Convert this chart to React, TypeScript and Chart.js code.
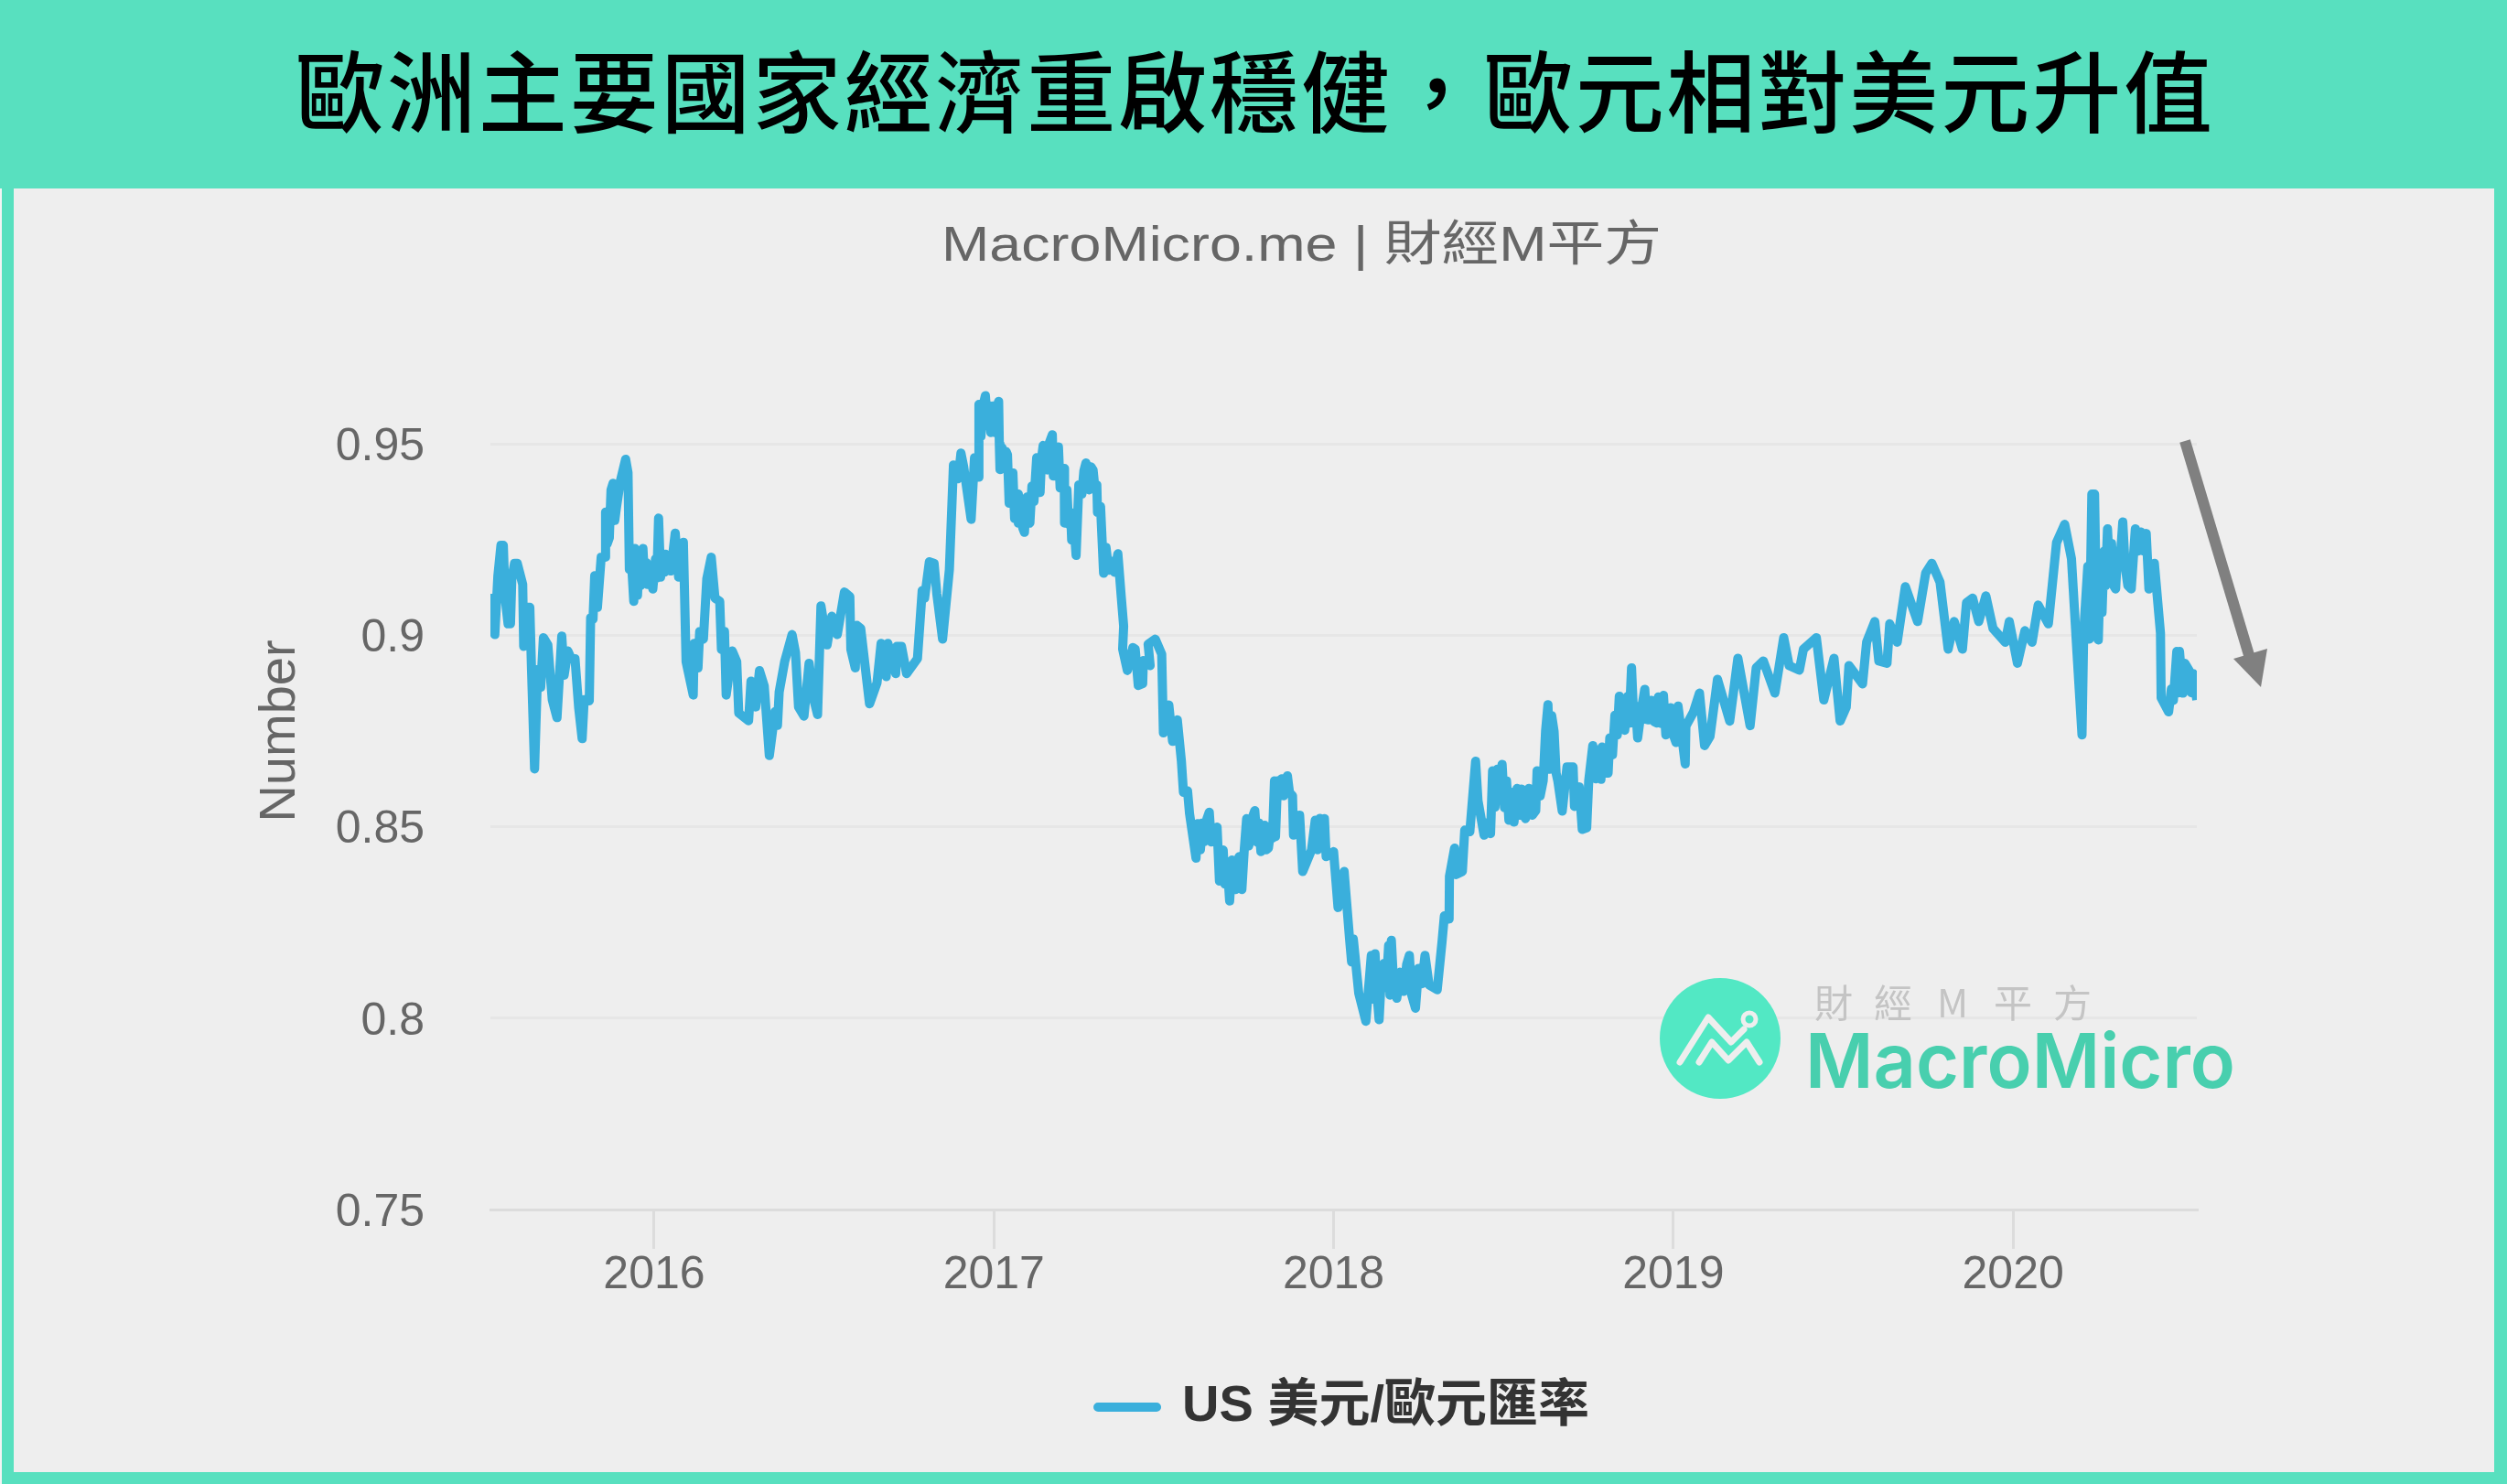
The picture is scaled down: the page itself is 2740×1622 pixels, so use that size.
import React, { useEffect, useRef } from "react";
import { Chart, registerables } from "chart.js";

Chart.register(...registerables);

const headline = "歐洲主要國家經濟重啟穩健\uFF0C歐元相對美元升值";
const chartTitle = "MacroMicro.me | 財經M平方";
const seriesName = "US 美元/歐元匯率";
const yAxisName = "Number";
const xTicks = [2016, 2017, 2018, 2019, 2020];
const yTicks = [0.75, 0.8, 0.85, 0.9, 0.95];

// [decimal year, rate]
const rates2015: [number, number][] = [
  [2015.527,.9109],[2015.531,.9002],[2015.54,.9156],[2015.549,.9235],[2015.556,.9235],[2015.561,.9101],[2015.57,.903],[2015.577,.903],[2015.581,.9148],[2015.589,.9188],[2015.597,.9188],[2015.613,.9133],[2015.616,.8971],[2015.623,.9073],[2015.634,.9073],[2015.639,.8911],[2015.648,.8651],[2015.657,.8911],[2015.666,.8864],[2015.674,.8994],[2015.687,.8975],[2015.7,.8832],[2015.714,.8785],[2015.728,.8998],[2015.735,.8896],[2015.746,.8959],[2015.756,.8939],[2015.767,.8939],[2015.778,.8809],[2015.788,.873],[2015.794,.8832],[2015.809,.8829],[2015.813,.9046],[2015.82,.9042],[2015.825,.9156],[2015.833,.9073],[2015.844,.9204],[2015.855,.9204],[2015.857,.9322],[2015.862,.924],[2015.868,.9255],[2015.873,.938],[2015.879,.9397],[2015.884,.93],[2015.889,.9334],[2015.895,.937],[2015.9,.9401],[2015.916,.946],[2015.923,.9425],[2015.927,.9172],[2015.932,.921],[2015.94,.9089],[2015.943,.9227],[2015.951,.9105],[2015.955,.919],[2015.96,.913],[2015.967,.9227],[2015.972,.914],[2015.977,.919],[2015.98,.9133],[2015.988,.917],[2015.996,.9121],
];
const rates2016: [number, number][] = [
  [2016.004,.92],[2016.008,.915],[2016.013,.9306],[2016.019,.9152],[2016.026,.921],[2016.03,.9165],[2016.033,.9212],[2016.04,.917],[2016.049,.9168],[2016.062,.9267],[2016.072,.9152],[2016.086,.9243],[2016.094,.8931],[2016.115,.8844],[2016.118,.8979],[2016.129,.8915],[2016.134,.901],[2016.145,.899],[2016.155,.9148],[2016.168,.9204],[2016.179,.9097],[2016.193,.9089],[2016.198,.8963],[2016.207,.901],[2016.212,.8844],[2016.23,.8959],[2016.243,.8931],[2016.249,.8797],[2016.278,.8777],[2016.285,.888],[2016.299,.8813],[2016.31,.8908],[2016.324,.8868],[2016.339,.8686],[2016.356,.8801],[2016.363,.8765],[2016.368,.8852],[2016.384,.8931],[2016.406,.9002],[2016.416,.8955],[2016.425,.8813],[2016.441,.8789],[2016.456,.8927],[2016.469,.8836],[2016.481,.8793],[2016.491,.9077],[2016.509,.8975],[2016.523,.905],[2016.539,.9002],[2016.56,.9113],[2016.576,.9101],[2016.579,.8963],[2016.592,.8915],[2016.597,.9026],[2016.608,.9018],[2016.634,.8821],[2016.656,.8876],[2016.668,.8979],[2016.683,.8892],[2016.688,.8979],[2016.711,.89],[2016.714,.8971],[2016.728,.8971],[2016.743,.89],[2016.775,.8939],[2016.789,.9117],[2016.796,.9097],[2016.81,.9192],[2016.824,.9188],[2016.832,.9109],[2016.849,.899],[2016.869,.9172],[2016.881,.9445],[2016.895,.9409],[2016.903,.9476],[2016.911,.9441],[2016.933,.9303],[2016.943,.9464],[2016.954,.9413],[2016.956,.9603],[2016.962,.952],[2016.968,.96],[2016.975,.9626],[2016.98,.9563],[2016.986,.96],[2016.991,.953],[2016.997,.9599],
];
const rates2017: [number, number][] = [
  [2017.003,.953],[2017.008,.9595],[2017.014,.9611],[2017.016,.95],[2017.018,.9433],[2017.024,.949],[2017.03,.944],[2017.036,.948],[2017.04,.9472],[2017.045,.9345],[2017.05,.94],[2017.056,.9424],[2017.061,.9305],[2017.066,.937],[2017.07,.9369],[2017.072,.9293],[2017.08,.934],[2017.085,.928],[2017.09,.9269],[2017.094,.934],[2017.097,.9361],[2017.102,.93],[2017.106,.9293],[2017.112,.939],[2017.118,.935],[2017.126,.9464],[2017.131,.938],[2017.136,.9373],[2017.14,.946],[2017.145,.9496],[2017.15,.944],[2017.157,.9432],[2017.162,.95],[2017.172,.9524],[2017.175,.9416],[2017.18,.948],[2017.185,.942],[2017.19,.9492],[2017.195,.9385],[2017.2,.943],[2017.207,.9436],[2017.208,.9293],[2017.215,.938],[2017.22,.929],[2017.226,.9321],[2017.229,.9249],[2017.235,.93],[2017.242,.9209],[2017.25,.9393],[2017.259,.9369],[2017.265,.943],[2017.271,.945],[2017.28,.938],[2017.286,.944],[2017.292,.9432],[2017.298,.938],[2017.303,.9393],[2017.305,.9321],[2017.314,.9337],[2017.323,.9162],[2017.33,.923],[2017.338,.917],[2017.346,.9194],[2017.355,.9165],[2017.365,.9213],[2017.375,.91],[2017.382,.9024],[2017.379,.8964],[2017.393,.8908],[2017.409,.8968],[2017.416,.8964],[2017.425,.8869],[2017.438,.8874],[2017.44,.8934],[2017.46,.8921],[2017.454,.8977],[2017.475,.899],[2017.494,.8951],[2017.499,.8745],[2017.515,.8818],[2017.526,.8723],[2017.54,.8779],[2017.552,.8671],[2017.558,.859],[2017.57,.8594],[2017.576,.8534],[2017.595,.8418],[2017.6,.8508],[2017.608,.844],[2017.614,.851],[2017.619,.8461],[2017.627,.852],[2017.634,.8538],[2017.64,.846],[2017.648,.8469],[2017.657,.8499],[2017.664,.8358],[2017.669,.843],[2017.675,.8439],[2017.68,.835],[2017.687,.84],[2017.694,.8306],[2017.701,.8413],[2017.707,.834],[2017.712,.8336],[2017.717,.841],[2017.722,.8422],[2017.726,.834],[2017.73,.8336],[2017.737,.844],[2017.744,.8521],[2017.75,.845],[2017.758,.8474],[2017.763,.853],[2017.768,.8542],[2017.775,.846],[2017.78,.851],[2017.786,.8435],[2017.79,.849],[2017.797,.8504],[2017.802,.844],[2017.808,.8444],[2017.815,.849],[2017.82,.847],[2017.826,.862],[2017.829,.8474],[2017.835,.862],[2017.84,.858],[2017.847,.8625],[2017.853,.8581],[2017.864,.8633],[2017.87,.859],[2017.879,.8581],[2017.882,.8478],[2017.89,.853],[2017.895,.848],[2017.9,.853],[2017.909,.8383],[2017.935,.8439],[2017.946,.8517],[2017.953,.844],[2017.96,.8522],[2017.965,.8445],[2017.973,.8521],[2017.978,.8422],
];
const rates2018: [number, number][] = [
  [2018.0,.8435],[2018.013,.8289],[2018.031,.8383],[2018.047,.8207],[2018.053,.8147],[2018.058,.8207],[2018.074,.8065],[2018.095,.7992],[2018.111,.8164],[2018.116,.805],[2018.122,.8168],[2018.128,.806],[2018.134,.7996],[2018.14,.81],[2018.148,.8143],[2018.155,.808],[2018.162,.819],[2018.166,.806],[2018.17,.8203],[2018.176,.81],[2018.186,.8052],[2018.196,.812],[2018.207,.807],[2018.215,.814],[2018.223,.8164],[2018.23,.806],[2018.241,.8026],[2018.25,.813],[2018.26,.809],[2018.269,.8164],[2018.281,.8087],[2018.305,.8074],[2018.319,.8198],[2018.326,.8267],[2018.34,.8259],[2018.341,.837],[2018.356,.8444],[2018.361,.8375],[2018.379,.8383],[2018.386,.8491],[2018.401,.8487],[2018.418,.8671],[2018.425,.8568],[2018.443,.8478],[2018.45,.851],[2018.462,.8482],[2018.468,.8646],[2018.475,.8551],[2018.482,.865],[2018.49,.857],[2018.496,.8663],[2018.503,.855],[2018.509,.862],[2018.516,.8517],[2018.523,.859],[2018.531,.8512],[2018.54,.86],[2018.547,.853],[2018.553,.8598],[2018.559,.853],[2018.565,.8521],[2018.575,.86],[2018.585,.853],[2018.595,.8542],[2018.599,.8646],[2018.608,.858],[2018.617,.862],[2018.624,.875],[2018.631,.8819],[2018.636,.865],[2018.642,.879],[2018.649,.8749],[2018.655,.864],[2018.66,.862],[2018.673,.8541],[2018.687,.8656],[2018.705,.8656],[2018.709,.8553],[2018.723,.8604],[2018.732,.8493],[2018.745,.8497],[2018.751,.862],[2018.763,.8712],[2018.772,.8625],[2018.78,.87],[2018.787,.8624],[2018.79,.8708],[2018.8,.864],[2018.808,.864],[2018.813,.8732],[2018.821,.8688],[2018.828,.8791],[2018.835,.874],[2018.841,.8841],[2018.848,.876],[2018.857,.8752],[2018.865,.884],[2018.87,.877],[2018.877,.8915],[2018.884,.877],[2018.889,.8815],[2018.895,.8732],[2018.905,.88],[2018.916,.8859],[2018.921,.878],[2018.927,.8779],[2018.935,.883],[2018.943,.8775],[2018.951,.8771],[2018.956,.8839],[2018.963,.877],[2018.971,.8843],[2018.978,.874],[2018.985,.88],[2018.992,.8811],
];
const rates2019: [number, number][] = [
  [2019.0,.874],[2019.008,.872],[2019.014,.8815],[2019.035,.8664],[2019.037,.8763],[2019.059,.8799],[2019.077,.8849],[2019.092,.8712],[2019.108,.8736],[2019.13,.8885],[2019.166,.8776],[2019.19,.894],[2019.226,.8764],[2019.244,.8915],[2019.265,.8933],[2019.299,.8849],[2019.325,.8994],[2019.341,.8921],[2019.371,.8909],[2019.383,.8964],[2019.421,.8994],[2019.443,.8831],[2019.473,.894],[2019.491,.8776],[2019.509,.8812],[2019.517,.8921],[2019.557,.8873],[2019.569,.8982],[2019.593,.9036],[2019.605,.8933],[2019.629,.8927],[2019.637,.903],[2019.659,.8982],[2019.683,.9127],[2019.719,.9036],[2019.743,.9163],[2019.761,.9188],[2019.785,.9139],[2019.809,.8964],[2019.827,.9036],[2019.851,.8964],[2019.863,.9085],[2019.881,.9097],[2019.899,.9036],[2019.92,.9103],[2019.941,.9018],[2019.977,.8982],[2019.989,.9036],
];
const rates2020: [number, number][] = [
  [2020.013,.8927],[2020.035,.9012],[2020.056,.8982],[2020.074,.9079],[2020.104,.903],[2020.128,.9242],[2020.152,.929],[2020.172,.92],[2020.188,.8958],[2020.203,.874],[2020.208,.9006],[2020.22,.918],[2020.225,.899],[2020.232,.9369],[2020.24,.9369],[2020.245,.91],[2020.251,.8988],[2020.256,.915],[2020.262,.906],[2020.268,.922],[2020.272,.913],[2020.278,.9278],[2020.284,.917],[2020.29,.924],[2020.296,.913],[2020.302,.9121],[2020.308,.922],[2020.314,.918],[2020.323,.9296],[2020.33,.918],[2020.338,.913],[2020.348,.9121],[2020.354,.92],[2020.36,.9278],[2020.368,.922],[2020.376,.927],[2020.384,.922],[2020.392,.9266],[2020.4,.9121],[2020.416,.9188],[2020.434,.9006],[2020.436,.8837],[2020.458,.88],[2020.466,.886],[2020.472,.883],[2020.482,.8958],[2020.487,.885],[2020.49,.8958],[2020.5,.8849],[2020.506,.8927],[2020.518,.8909],[2020.525,.885],[2020.53,.89],[2020.541,.8831],
];
const allRates = [...rates2015, ...rates2016, ...rates2017, ...rates2018, ...rates2019, ...rates2020];

const GREEN = "#58e0bf";
const PANEL = "#eeeeee";

export default function App() {
  const ref = useRef<HTMLCanvasElement>(null);
  useEffect(() => {
    const chart = new Chart(ref.current!, {
      type: "line",
      data: {
        datasets: [
          {
            label: seriesName,
            data: allRates.map(([x, y]) => ({ x, y })),
            borderColor: "#3aafdc",
            backgroundColor: "#3aafdc",
            borderWidth: 10,
            borderJoinStyle: "round",
            borderCapStyle: "butt",
            pointRadius: 0,
            tension: 0,
            clip: 0,
          },
        ],
      },
      options: {
        animation: false,
        responsive: false,
        devicePixelRatio: 1,
        layout: { padding: { left: 258, right: 325, top: 70, bottom: 33 } },
        plugins: {
          title: { display: false },
          tooltip: { enabled: false },
          legend: {
            position: "bottom",
            fullSize: false,
            labels: {
              boxWidth: 64,
              boxHeight: 0,
              padding: 10,
              color: "#333333",
              font: { family: "'Liberation Sans','Noto Sans CJK TC'", size: 56, weight: "bold" },
            },
          },
        },
        scales: {
          x: {
            type: "linear",
            min: 2015.518,
            max: 2020.541,
            afterBuildTicks: (a: any) => {
              a.ticks = xTicks.map((value) => ({ value }));
            },
            afterFit: (s: any) => {
              s.height = 178;
            },
            ticks: {
              autoSkip: false,
              maxRotation: 0,
              padding: 3,
              color: "#666666",
              font: { family: "'Liberation Sans'", size: 50, lineHeight: 1.04 },
              callback: (v: any) => String(v),
            },
            grid: { drawOnChartArea: false, drawTicks: true, tickLength: 43, color: "#dcdcdc", lineWidth: 3 },
            border: { display: true, color: "#dcdcdc", width: 3 },
          },
          y: {
            type: "linear",
            min: 0.75,
            max: 1,
            afterBuildTicks: (a: any) => {
              a.ticks = yTicks.map((value) => ({ value }));
            },
            afterFit: (s: any) => {
              s.width = 263;
              s.paddingTop = 0;
              s.paddingBottom = 0;
            },
            title: {
              display: true,
              text: yAxisName,
              color: "#666666",
              padding: 0,
              font: { family: "'Liberation Sans'", size: 56 },
            },
            ticks: {
              padding: 72,
              labelOffset: 4,
              color: "#666666",
              font: { family: "'Liberation Sans'", size: 50 },
              callback: (v: any) => String(v),
            },
            grid: { drawTicks: false, color: "#e6e6e6", lineWidth: 3 },
            border: { display: false },
          },
        },
      },
    } as any);
    return () => chart.destroy();
  }, []);

  return (
    <div style={{ position: "fixed", left: 0, top: 0, width: 2740, height: 1622, background: GREEN, overflow: "hidden" }}>
      <div style={{ position: "absolute", left: 0, top: 206, width: 2, height: 1416, background: "#f4f4f4" }} />
      <div style={{ position: "absolute", left: 15, top: 206, width: 2711, height: 1403, background: PANEL }} />
      <canvas ref={ref} width={2711} height={1403} style={{ position: "absolute", left: 15, top: 206, width: 2711, height: 1403 }} />
      <svg width={2740} height={1622} style={{ position: "absolute", left: 0, top: 0, pointerEvents: "none" }}>
        <text x={1372} y={137} textAnchor="middle" fontSize={97} fontWeight={500} letterSpacing={2.9} fill="#000" fontFamily="'Noto Sans CJK TC'">
          {headline}
        </text>
        <text x={1029} y={285} fontSize={53} fill="#666666" fontFamily="'Liberation Sans','Noto Sans CJK TC'" textLength={787} lengthAdjust="spacingAndGlyphs">
          {chartTitle}
        </text>
        {/* arrow */}
        <line x1={2388} y1={482} x2={2458} y2={716} stroke="#808080" strokeWidth={12} />
        <polygon points="2441,720 2478,709 2471,751" fill="#808080" />
        {/* watermark */}
        <circle cx={1880} cy={1135} r={66} fill="#52e8c4" />
        <polyline points="1836,1161 1867,1112 1892,1139 1906,1125" fill="none" stroke="#eeeeee" strokeWidth={7} strokeLinecap="round" strokeLinejoin="round" />
        <polyline points="1857,1161 1871,1139 1889,1159 1909,1139 1923,1161" fill="none" stroke="#eeeeee" strokeWidth={7} strokeLinecap="round" strokeLinejoin="round" />
        <circle cx={1912} cy={1114} r={7} fill="#52e8c4" stroke="#eeeeee" strokeWidth={5} />
        <text x="1983 2048 2117 2179 2244" y={1112} fontSize={42} fill="#c4c4c4" fontFamily="'Noto Sans CJK TC'">
          財經M平方
        </text>
        <text x={1973} y={1189} fontSize={83} fontWeight={600} fill="#48cfae" fontFamily="Inter" textLength={470} lengthAdjust="spacingAndGlyphs">
          MacroMicro
        </text>
      </svg>
    </div>
  );
}
